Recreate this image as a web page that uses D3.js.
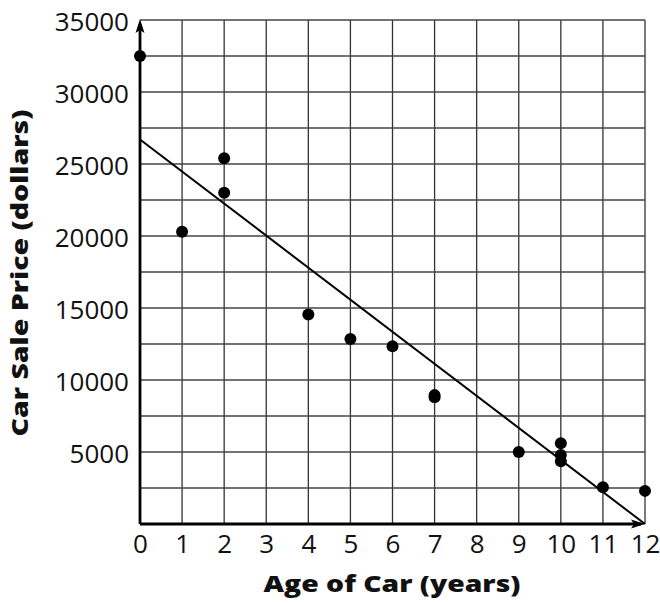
<!DOCTYPE html>
<html><head><meta charset="utf-8">
<script src="https://cdn.jsdelivr.net/npm/d3@7"></script>
<style>body{margin:0;background:#fff;} svg{display:block;}</style>
</head><body>
<svg id="c" width="660" height="603"></svg>
<script>
const ages = [0, 1, 2, 2, 4, 5, 6, 7, 7, 9, 10, 10, 10, 11, 12];
const prices = [32500, 20300, 25400, 23000, 14550, 12850, 12350, 8950, 8800, 5000, 5600, 4800, 4350, 2550, 2300];
const xTicks = [0,1,2,3,4,5,6,7,8,9,10,11,12];
const yTicks = [5000,10000,15000,20000,25000,30000,35000];
const yGrid = d3.range(2500, 35001, 2500);
const fitX = [0, 12];
const fitY = [26700, 0];

const svg = d3.select('#c');
const x = d3.scaleLinear().domain([0,12]).range([140,645]);
const y = d3.scaleLinear().domain([0,35000]).range([524,20]);
const font = '"Open Sans", sans-serif';

// grid
svg.append('g').selectAll('line.v').data(xTicks.slice(1)).join('line')
  .attr('x1', d=>x(d)).attr('x2', d=>x(d)).attr('y1', y(0)).attr('y2', y(35000))
  .attr('stroke', '#333').attr('stroke-width', 1.3);
svg.append('g').selectAll('line.h').data(yGrid).join('line')
  .attr('x1', x(0)).attr('x2', x(12)).attr('y1', d=>y(d)).attr('y2', d=>y(d))
  .attr('stroke', '#444').attr('stroke-width', 1.3);

// axes
const xAxis = d3.axisBottom(x).tickValues(xTicks).tickSize(0).tickPadding(11).tickFormat(d3.format('d'));
const gx = svg.append('g').attr('transform', `translate(0,${y(0)})`).call(xAxis);
gx.select('.domain').remove();
gx.selectAll('text').attr('font-family', font).attr('font-size', 26).attr('fill', '#111');

const yAxis = d3.axisLeft(y).tickValues(yTicks).tickSize(0).tickPadding(11).tickFormat(d3.format('d'));
const gy = svg.append('g').attr('transform', `translate(${x(0)},0)`).call(yAxis);
gy.select('.domain').remove();
gy.selectAll('text').attr('font-family', font).attr('font-size', 26).attr('fill', '#111').attr('dy', '0.42em');

// axis lines
svg.append('line').attr('x1', x(0)).attr('x2', x(12)-4).attr('y1', y(0)).attr('y2', y(0)).attr('stroke', '#000').attr('stroke-width', 2.8);
svg.append('line').attr('x1', x(0)).attr('x2', x(0)).attr('y1', y(0)).attr('y2', y(35000)+4).attr('stroke', '#000').attr('stroke-width', 2.8);
// arrowheads
svg.append('path').attr('d', `M${x(0)},${y(35000)-1} L${x(0)-4.5},${y(35000)+13} L${x(0)},${y(35000)+10} L${x(0)+4.5},${y(35000)+13} Z`).attr('fill', '#000');
svg.append('path').attr('d', `M${x(12)},${y(0)} L${x(12)-14},${y(0)-4.5} L${x(12)-11},${y(0)} L${x(12)-14},${y(0)+4.5} Z`).attr('fill', '#000');

// fit line
const line = d3.line().x(d=>x(d[0])).y(d=>y(d[1]));
svg.append('path').datum(fitX.map((d,i)=>[d, fitY[i]])).attr('d', line)
  .attr('fill','none').attr('stroke','#000').attr('stroke-width', 2);

// points
svg.append('g').selectAll('circle').data(ages.map((d,i)=>[d, prices[i]])).join('circle')
  .attr('cx', d=>x(d[0])).attr('cy', d=>y(d[1])).attr('r', 6).attr('fill', '#000');

// titles (stretched horizontally to match the wide bold face of the original)
function title(txt, cx, cy, rot, target){
  const t = svg.append('text').attr('text-anchor','middle')
    .attr('font-family', font).attr('font-weight', 800).attr('font-size', 23).attr('fill','#111')
    .text(txt);
  const s = target / t.node().getComputedTextLength();
  t.attr('transform', `translate(${cx},${cy}) rotate(${rot}) scale(${s},1)`);
}
title('Age of Car (years)', 392, 592, 0, 257);
title('Car Sale Price (dollars)', 28, 273, -90, 327);
</script>
</body></html>
